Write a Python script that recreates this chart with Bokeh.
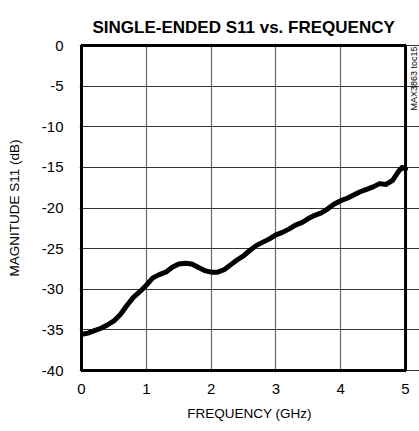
import math
from bokeh.plotting import figure
from bokeh.models import FixedTicker, Range1d, Label, BoxAnnotation
from bokeh.embed import file_html
from bokeh.resources import INLINE

# ---- data ----
freq_ghz = [0.03, 0.1, 0.2, 0.3, 0.4, 0.5, 0.6, 0.7, 0.8, 0.9, 1.0, 1.1, 1.2, 1.3,
            1.4, 1.5, 1.6, 1.7, 1.8, 1.9, 2.0, 2.1, 2.2, 2.3, 2.4, 2.5, 2.6, 2.7,
            2.8, 2.9, 3.0, 3.1, 3.2, 3.3, 3.4, 3.5, 3.6, 3.7, 3.8, 3.9, 4.0, 4.1,
            4.2, 4.3, 4.4, 4.5, 4.6, 4.7, 4.8, 4.9, 4.95, 5.0]
s11_db = [-35.5, -35.4, -35.1, -34.8, -34.4, -33.9, -33.1, -32.0, -31.0, -30.3,
          -29.5, -28.6, -28.2, -27.9, -27.3, -26.9, -26.8, -26.9, -27.3, -27.7,
          -27.9, -27.9, -27.6, -27.0, -26.4, -25.9, -25.2, -24.6, -24.2, -23.8,
          -23.3, -23.0, -22.6, -22.1, -21.8, -21.3, -20.9, -20.6, -20.1, -19.5,
          -19.1, -18.8, -18.4, -18.0, -17.7, -17.4, -17.0, -17.1, -16.6, -15.4,
          -15.0, -15.2]
x_ticks = [0, 1, 2, 3, 4, 5]
x_tick_labels = ["0", "1", "2", "3", "4", "5"]
y_ticks = [0, -5, -10, -15, -20, -25, -30, -35, -40]
y_tick_labels = ["0", "-5", "-10", "-15", "-20", "-25", "-30", "-35", "-40"]
title_text = "SINGLE-ENDED S11 vs. FREQUENCY"
x_label_text = "FREQUENCY (GHz)"
y_label_text = "MAGNITUDE S11 (dB)"
side_text = "MAX3863 toc15"

FONT = "Liberation Sans"

# the frame reaches the right edge of the canvas so the side note (drawn as a
# label) stays visible; the plot box itself is drawn as a box annotation
PX_PER_GHZ = 65.0
PX_PER_DB = 325.0 / 40.0
pad_x = 2 / PX_PER_GHZ
pad_y = 2 / PX_PER_DB
x_end = 5 + 14 / PX_PER_GHZ

p = figure(width=419, height=431, output_backend="svg", toolbar_location=None,
           x_range=Range1d(-pad_x, x_end), y_range=Range1d(-40 - pad_y, pad_y),
           min_border_left=79, min_border_right=0, min_border_top=43,
           min_border_bottom=59)
p.background_fill_color = "white"
p.border_fill_color = "white"
p.outline_line_color = None

p.line(freq_ghz, s11_db, line_color="black", line_width=5, line_join="round",
       line_cap="round")

for ax in (p.xaxis[0], p.yaxis[0]):
    ax.axis_line_color = None
    ax.major_tick_line_color = None
    ax.minor_tick_line_color = None
    ax.major_tick_out = 0
    ax.major_tick_in = 0
    ax.minor_tick_out = 0
    ax.major_label_text_font = FONT
    ax.major_label_text_font_size = "15px"
    ax.major_label_text_color = "black"
    ax.axis_label_text_font = FONT
    ax.axis_label_text_font_size = "13.5px"
    ax.axis_label_text_font_style = "normal"
    ax.axis_label_text_color = "black"

p.xaxis.ticker = FixedTicker(ticks=x_ticks)
p.xaxis.major_label_overrides = {t: s for t, s in zip(x_ticks, x_tick_labels)}
p.xaxis.major_label_standoff = 11
p.xaxis.axis_label = x_label_text
p.xaxis.axis_label_standoff = 9
p.yaxis.ticker = FixedTicker(ticks=y_ticks)
p.yaxis.major_label_overrides = {t: s for t, s in zip(y_ticks, y_tick_labels)}
p.yaxis.major_label_standoff = 16
p.yaxis.axis_label = y_label_text
p.yaxis.axis_label_standoff = 17

p.xgrid.ticker = FixedTicker(ticks=x_ticks)
p.ygrid.ticker = FixedTicker(ticks=y_ticks)
p.xgrid.bounds = (-40, 0)
p.ygrid.bounds = (0, 5)
p.xgrid.grid_line_color = "#666666"
p.ygrid.grid_line_color = "#333333"
p.xgrid.grid_line_width = 1.2
p.ygrid.grid_line_width = 1.2

p.add_layout(BoxAnnotation(left=0, right=5, bottom=-40, top=0,
                           fill_color=None, fill_alpha=0,
                           line_color="black", line_width=3, line_alpha=1))

p.title.text = title_text
p.title.align = "left"
p.title.offset = 13
p.title.text_font = FONT
p.title.text_font_style = "bold"
p.title.text_font_size = "17px"
p.title.text_color = "black"
p.title.standoff = 14

p.add_layout(Label(x=5, y=0, x_offset=8, y_offset=-1, text=side_text,
                   text_font=FONT, text_font_size="9px", text_align="right",
                   angle=math.pi / 2, text_baseline="middle",
                   text_color="black"))

open("out.html", "w").write(file_html(p, INLINE))
